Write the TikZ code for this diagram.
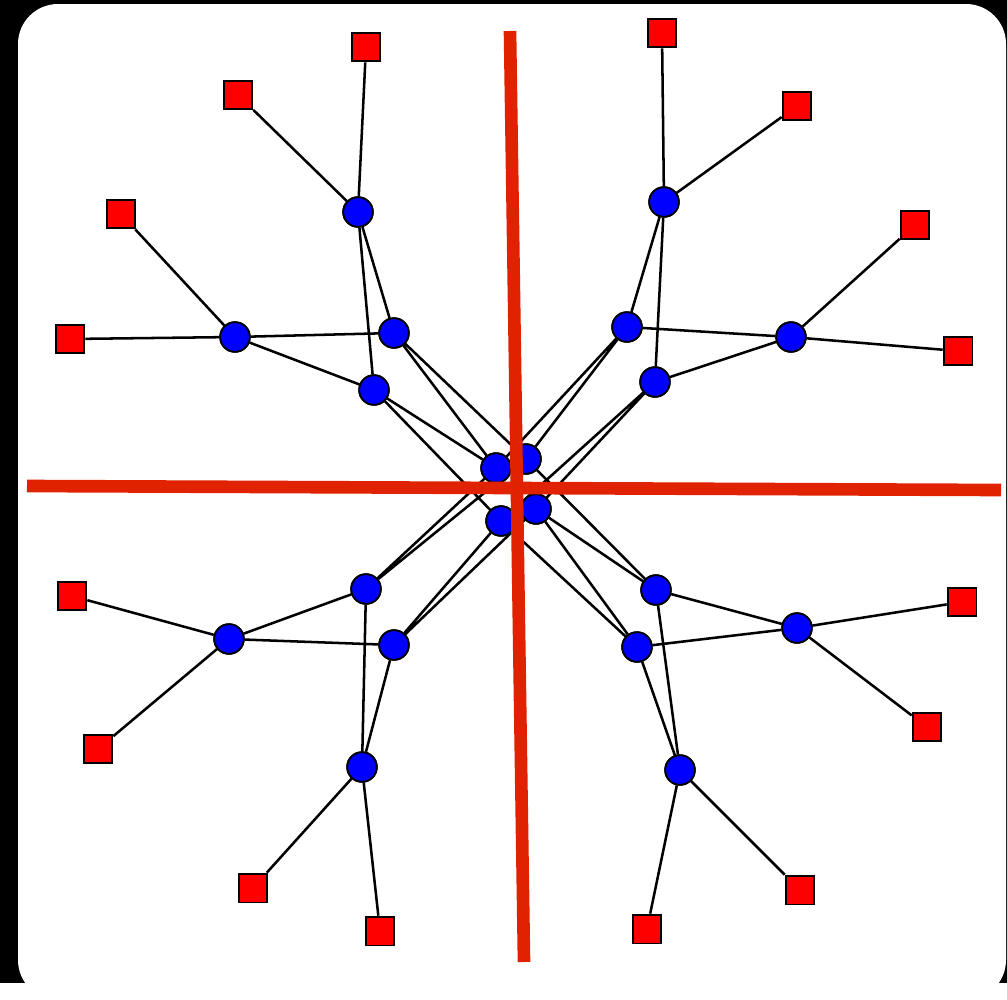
\documentclass[tikz,border=0pt]{standalone}
\definecolor{axisred}{RGB}{224,34,0}
\tikzset{
  hub/.style={circle,draw=black,fill=blue,line width=1.3pt,minimum size=0.74cm,inner sep=0pt},
  leaf/.style={rectangle,draw=black,fill=red,line width=1.3pt,minimum size=0.72cm,inner sep=0pt},
  link/.style={draw=black,line width=1.8pt},
  axis/.style={draw=axisred,line width=9pt}
}
\begin{document}
\begin{tikzpicture}[x=0.025cm,y=-0.025cm]
\fill[black] (0,0) rectangle (1007,983);
\fill[white,rounded corners=1cm] (18,4) rectangle (1006,1000);
\useasboundingbox (0,0) rectangle (1007,983);
\begin{scope}[every node/.style={hub}]
  % centre
  \node (cA) at (496,468) {};
  \node (cB) at (526,459) {};
  \node (cC) at (501,521) {};
  \node (cD) at (536,509) {};
  % upper left
  \node (ulA) at (358,212) {};
  \node (ulB) at (235,337) {};
  \node (ulP) at (394,333) {};
  \node (ulQ) at (374,390) {};
  % upper right
  \node (urA) at (664,202) {};
  \node (urB) at (791,337) {};
  \node (urP) at (627,327) {};
  \node (urQ) at (655,382) {};
  % lower right
  \node (lrA) at (797,628) {};
  \node (lrB) at (680,770) {};
  \node (lrP) at (656,590) {};
  \node (lrQ) at (637,647) {};
  % lower left
  \node (llA) at (229,639) {};
  \node (llB) at (362,767) {};
  \node (llP) at (366,589) {};
  \node (llQ) at (394,645) {};
\end{scope}
\begin{scope}[every node/.style={leaf}]
  \node (ulA1) at (366,47) {};
  \node (ulA2) at (238,95) {};
  \node (ulB1) at (121,214) {};
  \node (ulB2) at (70,339) {};
  \node (urA1) at (662,33) {};
  \node (urA2) at (797,106) {};
  \node (urB1) at (915,225) {};
  \node (urB2) at (958,351) {};
  \node (lrA1) at (962,602) {};
  \node (lrA2) at (927,727) {};
  \node (lrB1) at (800,890) {};
  \node (lrB2) at (647,929) {};
  \node (llA1) at (72,596) {};
  \node (llA2) at (98,749) {};
  \node (llB1) at (253,888) {};
  \node (llB2) at (380,931) {};
\end{scope}
\foreach \q in {ul,ur,lr,ll} {
  \draw[link] (\q A) -- (\q A1) (\q A) -- (\q A2);
  \draw[link] (\q B) -- (\q B1) (\q B) -- (\q B2);
  \draw[link] (\q A) -- (\q P) (\q A) -- (\q Q);
  \draw[link] (\q B) -- (\q P) (\q B) -- (\q Q);
}
\draw[link] (ulP) -- (cA) (ulP) -- (cB) (ulQ) -- (cA) (ulQ) -- (cC);
\draw[link] (urP) -- (cA) (urP) -- (cB) (urQ) -- (cC) (urQ) -- (cD);
\draw[link] (lrP) -- (cB) (lrP) -- (cD) (lrQ) -- (cD) (lrQ) -- (cC);
\draw[link] (llP) -- (cA) (llP) -- (cB) (llQ) -- (cC) (llQ) -- (cD);
% redraw nodes above the links
\foreach \n in {cA,cB,cC,cD,ulA,ulB,ulP,ulQ,urA,urB,urP,urQ,lrA,lrB,lrP,lrQ,llA,llB,llP,llQ}
  \node[hub] at (\n) {};
\foreach \n in {ulA1,ulA2,ulB1,ulB2,urA1,urA2,urB1,urB2,lrA1,lrA2,lrB1,lrB2,llA1,llA2,llB1,llB2}
  \node[leaf] at (\n) {};
% axes
\coordinate (top) at (510,31);
\coordinate (bot) at (524,962);
\coordinate (lft) at (27,486);
\coordinate (rgt) at (1001,490);
\draw[axis] (top) -- (bot);
\draw[axis] (lft) -- (rgt);
\end{tikzpicture}
\end{document}
